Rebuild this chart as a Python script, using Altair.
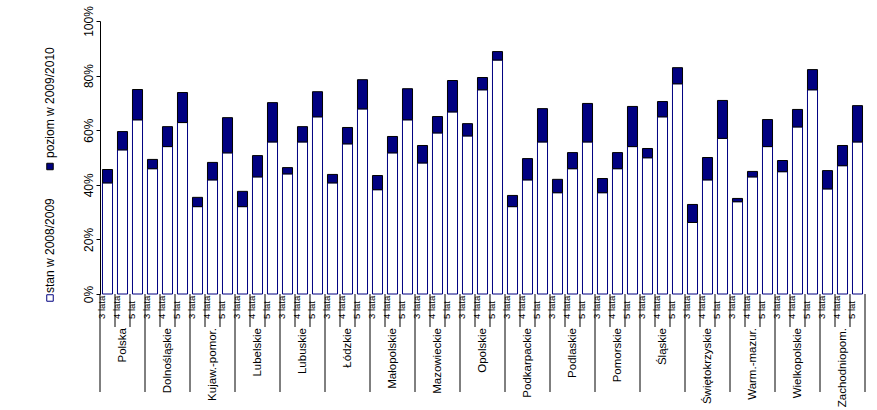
import altair as alt
import pandas as pd

regions = ["Polska", "Dolnośląskie", "Kujaw.-pomor.", "Lubelskie", "Lubuskie", "Łódzkie",
           "Małopolskie", "Mazowieckie", "Opolskie", "Podkarpackie", "Podlaskie", "Pomorskie",
           "Śląskie", "Świętokrzyskie", "Warm.-mazur.", "Wielkopolskie", "Zachodniopom."]
ages = ["3 lata", "4 lata", "5 lat"]

stan = [40.7, 52.8, 63.8, 45.9, 54.0, 62.8, 32.0, 41.8, 51.7, 32.0, 42.9, 55.7,
        44.0, 55.7, 64.9, 40.7, 55.0, 67.8, 38.2, 51.7, 63.8, 48.0, 59.0, 66.7,
        57.9, 74.8, 85.7, 32.0, 41.8, 55.7, 37.1, 45.9, 55.7, 37.1, 45.9, 54.0,
        49.9, 64.9, 77.0, 26.2, 41.8, 57.0, 33.8, 42.9, 54.0, 44.8, 61.2, 74.8,
        38.5, 47.0, 55.7]
poziom = [45.6, 59.5, 74.9, 49.3, 61.3, 73.8, 35.4, 48.2, 64.6, 37.6, 50.7, 70.1,
          46.3, 61.3, 74.1, 43.8, 61.0, 78.5, 43.4, 57.7, 75.2, 54.4, 65.0, 78.2,
          62.4, 79.3, 88.8, 36.1, 49.6, 67.9, 42.0, 51.8, 69.8, 42.3, 51.8, 68.7,
          53.3, 70.5, 82.9, 32.8, 50.0, 70.9, 35.0, 44.9, 63.9, 48.9, 67.6, 82.2,
          45.2, 54.4, 69.0]
y_ticks = [0, 20, 40, 60, 80, 100]
legend_labels = ["stan w 2008/2009", "poziom w 2009/2010"]

rows = []
for gi, reg in enumerate(regions):
    for ai, age in enumerate(ages):
        k = gi * 3 + ai
        rows.append({"id": f"{k:02d}", "region": reg, "age": age,
                     "stan": stan[k], "poziom": poziom[k], "last": k == len(stan) - 1})
df = pd.DataFrame(rows)
order = list(df["id"])

FONT = "Liberation Sans"
NAVY = "#000080"
H = 273
W = 765

xs = alt.Scale(domain=order, paddingInner=0, paddingOuter=0)
xenc = alt.X("id:N", scale=xs, sort=order,
             axis=alt.Axis(labels=False, ticks=False, title=None, domain=True,
                           domainColor="black", domainWidth=1, grid=False))
ys = alt.Scale(domain=[0, 100], nice=False)
yaxis = alt.Axis(values=y_ticks, labelExpr="datum.value + '%'", title=None, grid=False,
                 domainColor="black", tickColor="black", tickSize=4, labelAngle=270,
                 labelAlign="center", labelBaseline="middle", labelPadding=8,
                 labelFont=FONT, labelFontSize=12, labelColor="black")

base = alt.Chart(df)

white = base.mark_bar(width=alt.RelativeBandSize(0.67), fill="white", stroke=NAVY,
                      strokeWidth=1).encode(
    x=xenc,
    y=alt.Y("stan:Q", scale=ys, axis=yaxis),
    y2=alt.datum(0),
)
navy = base.mark_bar(width=alt.RelativeBandSize(0.67), fill=NAVY, stroke="black",
                     strokeWidth=1).encode(
    x=xenc,
    y=alt.Y("stan:Q", scale=ys, axis=yaxis),
    y2="poziom:Q",
)

small_sep = base.transform_filter(alt.datum.age != "3 lata").mark_rule(
    color="black", strokeWidth=1).encode(
    x=alt.X("id:N", scale=xs, sort=order, bandPosition=0, axis=None),
    y=alt.value(H), y2=alt.value(H + 33))
group_sep = base.transform_filter(alt.datum.age == "3 lata").mark_rule(
    color="black", strokeWidth=1).encode(
    x=alt.X("id:N", scale=xs, sort=order, bandPosition=0, axis=None),
    y=alt.value(H), y2=alt.value(H + 98))
end_sep = base.transform_filter(alt.datum.last).mark_rule(
    color="black", strokeWidth=1).encode(
    x=alt.X("id:N", scale=xs, sort=order, bandPosition=1, axis=None),
    y=alt.value(H), y2=alt.value(H + 98))

age_txt = base.mark_text(angle=270, align="left", baseline="middle", font=FONT,
                         fontSize=9.5, color="black").encode(
    x=alt.X("id:N", scale=xs, sort=order, axis=None),
    xOffset=alt.value(2),
    y=alt.value(H + 25), text="age:N")
reg_txt = base.transform_filter(alt.datum.age == "4 lata").mark_text(
    angle=270, align="right", baseline="middle", font=FONT, fontSize=11.5,
    color="black").encode(
    x=alt.X("id:N", scale=xs, sort=order, axis=None),
    y=alt.value(H + 34), text="region:N")

leg = alt.Chart(pd.DataFrame({"label": legend_labels}))
leg_sq1 = leg.transform_filter(alt.datum.label == legend_labels[0]).mark_square(
    size=42, fill="white", stroke=NAVY, strokeWidth=1, opacity=1).encode(
    x=alt.value(-50), y=alt.value(277))
leg_sq2 = leg.transform_filter(alt.datum.label == legend_labels[1]).mark_square(
    size=42, fill=NAVY, stroke="black", strokeWidth=1, opacity=1).encode(
    x=alt.value(-50), y=alt.value(145.5))
leg_t1 = leg.transform_filter(alt.datum.label == legend_labels[0]).mark_text(
    angle=270, align="left", baseline="middle", font=FONT, fontSize=12,
    color="black").encode(x=alt.value(-50), y=alt.value(272), text="label:N")
leg_t2 = leg.transform_filter(alt.datum.label == legend_labels[1]).mark_text(
    angle=270, align="left", baseline="middle", font=FONT, fontSize=12,
    color="black").encode(x=alt.value(-50), y=alt.value(137), text="label:N")

chart = alt.layer(white, navy, small_sep, group_sep, end_sep, age_txt, reg_txt,
                  leg_sq1, leg_sq2, leg_t1, leg_t2).properties(
    width=W, height=H,
    padding={"left": 100, "top": 21, "right": 12, "bottom": 116},
    autosize=alt.AutoSizeParams(type="none"),
    background="white",
).configure_view(stroke=None)

chart.save("out.html", embed_options={"renderer": "svg", "actions": False})
